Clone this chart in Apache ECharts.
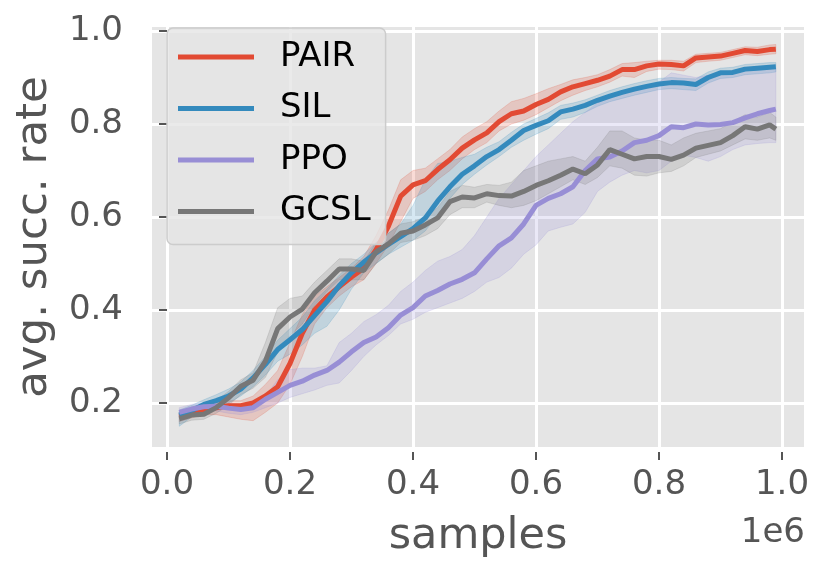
<!DOCTYPE html>
<html>
<head>
<meta charset="utf-8">
<script src="https://cdn.jsdelivr.net/npm/echarts@6/dist/echarts.min.js"></script>
<style>
  html, body { margin: 0; padding: 0; background: #fff; }
  #chart { width: 831px; height: 568px; }
</style>
</head>
<body>
<div id="chart"></div>
<script>
// samples (x1e6)
var xs = [0.02,0.04,0.06,0.08,0.10,0.12,0.14,0.16,0.18,0.20,
          0.22,0.24,0.26,0.28,0.30,0.32,0.34,0.36,0.38,0.40,
          0.42,0.44,0.46,0.48,0.50,0.52,0.54,0.56,0.58,0.60,
          0.62,0.64,0.66,0.68,0.70,0.72,0.74,0.76,0.78,0.80,
          0.82,0.84,0.86,0.88,0.90,0.92,0.94,0.96,0.98,0.99];

var xTicks = [0.0, 0.2, 0.4, 0.6, 0.8, 1.0];
var yTicks = [0.2, 0.4, 0.6, 0.8, 1.0];

// PAIR
var pairMean = [0.170,0.178,0.186,0.190,0.194,0.194,0.200,0.215,0.235,0.285,
                0.350,0.400,0.428,0.450,0.471,0.490,0.530,0.580,0.645,0.669,
                0.678,0.702,0.723,0.748,0.766,0.781,0.805,0.822,0.828,0.842,
                0.853,0.869,0.880,0.887,0.894,0.903,0.917,0.917,0.925,0.929,
                0.928,0.925,0.942,0.944,0.946,0.952,0.958,0.956,0.960,0.961];
var pairLo = [0.160,0.168,0.175,0.175,0.170,0.165,0.162,0.180,0.200,0.240,
              0.300,0.370,0.405,0.430,0.450,0.465,0.500,0.540,0.590,0.640,
              0.655,0.680,0.700,0.725,0.745,0.760,0.785,0.800,0.808,0.820,
              0.835,0.850,0.862,0.872,0.880,0.890,0.903,0.900,0.913,0.918,
              0.917,0.914,0.932,0.935,0.937,0.943,0.949,0.947,0.950,0.951];
var pairHi = [0.180,0.188,0.196,0.200,0.205,0.205,0.215,0.240,0.270,0.330,
              0.390,0.430,0.450,0.470,0.490,0.515,0.560,0.615,0.680,0.700,
              0.705,0.725,0.745,0.772,0.790,0.805,0.828,0.848,0.855,0.865,
              0.876,0.885,0.895,0.900,0.906,0.917,0.930,0.932,0.935,0.937,
              0.937,0.935,0.950,0.952,0.954,0.960,0.966,0.965,0.970,0.971];

// SIL
var silMean = [0.174,0.184,0.197,0.205,0.215,0.230,0.254,0.283,0.315,0.336,
               0.358,0.388,0.418,0.452,0.480,0.503,0.523,0.541,0.558,0.575,
               0.598,0.634,0.665,0.692,0.710,0.730,0.745,0.765,0.786,0.797,
               0.807,0.826,0.832,0.840,0.851,0.860,0.868,0.875,0.881,0.886,
               0.889,0.888,0.885,0.900,0.910,0.911,0.918,0.920,0.922,0.923];
var silLo = [0.150,0.170,0.185,0.192,0.200,0.215,0.235,0.260,0.290,0.305,
             0.325,0.350,0.365,0.400,0.445,0.480,0.500,0.520,0.535,0.550,
             0.570,0.605,0.640,0.670,0.692,0.712,0.730,0.750,0.765,0.778,
             0.790,0.810,0.815,0.825,0.838,0.848,0.855,0.862,0.868,0.874,
             0.876,0.874,0.872,0.888,0.898,0.900,0.906,0.908,0.910,0.912];
var silHi = [0.185,0.195,0.207,0.218,0.230,0.245,0.270,0.300,0.335,0.360,
             0.385,0.420,0.445,0.475,0.500,0.520,0.545,0.565,0.585,0.625,
             0.680,0.715,0.720,0.728,0.735,0.750,0.762,0.782,0.800,0.812,
             0.824,0.840,0.845,0.852,0.862,0.872,0.880,0.887,0.893,0.898,
             0.900,0.898,0.897,0.912,0.920,0.922,0.928,0.930,0.932,0.932];

// PPO
var ppoMean = [0.180,0.187,0.192,0.193,0.189,0.186,0.190,0.208,0.223,0.238,
               0.247,0.260,0.270,0.288,0.310,0.330,0.342,0.362,0.389,0.405,
               0.430,0.442,0.456,0.466,0.480,0.510,0.538,0.555,0.585,0.625,
               0.640,0.650,0.665,0.700,0.725,0.729,0.742,0.760,0.765,0.775,
               0.794,0.792,0.800,0.798,0.799,0.803,0.813,0.822,0.829,0.832];
var ppoLo = [0.170,0.178,0.183,0.183,0.178,0.175,0.180,0.190,0.200,0.212,
             0.220,0.228,0.238,0.243,0.270,0.300,0.325,0.345,0.370,0.380,
             0.395,0.405,0.415,0.425,0.440,0.460,0.470,0.490,0.520,0.540,
             0.570,0.578,0.585,0.610,0.655,0.675,0.690,0.700,0.695,0.700,
             0.720,0.733,0.728,0.720,0.730,0.745,0.755,0.758,0.760,0.760];
var ppoHi = [0.190,0.197,0.200,0.203,0.200,0.197,0.200,0.215,0.250,0.272,
             0.275,0.275,0.280,0.330,0.350,0.375,0.390,0.410,0.440,0.460,
             0.485,0.505,0.515,0.530,0.560,0.600,0.640,0.670,0.700,0.730,
             0.755,0.780,0.805,0.825,0.845,0.860,0.870,0.875,0.880,0.890,
             0.910,0.905,0.900,0.905,0.912,0.915,0.918,0.920,0.920,0.920];

// GCSL
var gcslMean = [0.166,0.174,0.176,0.190,0.211,0.236,0.249,0.290,0.360,0.385,
                0.402,0.437,0.462,0.488,0.488,0.485,0.525,0.542,0.565,0.570,
                0.583,0.598,0.633,0.643,0.641,0.650,0.646,0.645,0.655,0.668,
                0.678,0.690,0.703,0.693,0.712,0.745,0.735,0.725,0.730,0.730,
                0.724,0.733,0.748,0.754,0.760,0.775,0.794,0.789,0.798,0.789];
var gcslLo = [0.155,0.163,0.165,0.178,0.195,0.218,0.232,0.255,0.310,0.345,
              0.370,0.410,0.440,0.465,0.465,0.465,0.500,0.520,0.545,0.550,
              0.560,0.575,0.605,0.620,0.620,0.632,0.625,0.620,0.625,0.635,
              0.650,0.665,0.680,0.670,0.685,0.710,0.705,0.690,0.688,0.695,
              0.698,0.710,0.728,0.735,0.742,0.755,0.768,0.765,0.770,0.765];
var gcslHi = [0.178,0.185,0.188,0.205,0.225,0.250,0.265,0.330,0.405,0.425,
              0.430,0.460,0.485,0.510,0.510,0.505,0.545,0.565,0.585,0.590,
              0.600,0.620,0.655,0.668,0.664,0.670,0.668,0.675,0.700,0.710,
              0.720,0.725,0.730,0.720,0.750,0.785,0.785,0.770,0.765,0.765,
              0.755,0.770,0.780,0.785,0.790,0.805,0.820,0.815,0.825,0.815];

var FONT = 'DejaVu Sans';

function pairs(ys) {
    return xs.map(function (x, i) { return [x, ys[i]]; });
}

// shaded band (custom polygon through the axes) and the mean line for one method
function method(name, color, mean, lo, hi) {
    return [
        {
            name: name + ' band', type: 'custom', silent: true, clip: true,
            data: [[xs[0], lo[0]]],
            renderItem: function (params, api) {
                var pts = [];
                for (var i = 0; i < xs.length; i++) pts.push(api.coord([xs[i], lo[i]]));
                for (var j = xs.length - 1; j >= 0; j--) pts.push(api.coord([xs[j], hi[j]]));
                return {
                    type: 'polygon',
                    shape: { points: pts },
                    style: { fill: color, stroke: color, lineWidth: 1, opacity: 0.2 }
                };
            }
        },
        {
            name: name, type: 'line', symbol: 'none', data: pairs(mean),
            itemStyle: { color: color },
            lineStyle: { color: color, width: 5 }
        }
    ];
}

var myChart = echarts.init(document.getElementById('chart'));

var option = {
    animation: false,
    textStyle: { fontFamily: FONT },
    grid: {
        left: 152, right: 27, top: 27, bottom: 121,
        show: true, backgroundColor: '#E5E5E5', borderWidth: 0
    },
    legend: {
        data: ['PAIR', 'SIL', 'PPO', 'GCSL'],
        orient: 'vertical',
        left: 167, top: 28,
        icon: 'rect', itemWidth: 76, itemHeight: 5, itemGap: 17.5,
        padding: [12, 15, 16, 11],
        backgroundColor: 'rgba(229,229,229,0.8)',
        borderColor: '#cccccc', borderWidth: 1.5, borderRadius: 6,
        textStyle: { fontSize: 34, lineHeight: 34, color: '#000', fontFamily: FONT, padding: [0, 0, 0, 21] }
    },
    xAxis: {
        type: 'value', min: -0.0244, max: 1.0358, splitNumber: 5, offset: 5,
        name: 'samples', nameLocation: 'middle', nameGap: 63,
        nameTextStyle: { fontSize: 43, color: '#555555', fontFamily: FONT },
        axisLine: { show: false },
        axisTick: { show: true, length: 8, customValues: xTicks, lineStyle: { color: '#555555', width: 2 } },
        axisLabel: {
            customValues: xTicks, margin: 16, fontSize: 34, color: '#555555', fontFamily: FONT,
            formatter: function (v) { return v.toFixed(1); }
        },
        splitLine: { show: true, lineStyle: { color: '#ffffff', width: 3 } }
    },
    yAxis: {
        type: 'value', min: 0.1054, max: 1.0086, splitNumber: 5, offset: 5,
        name: 'avg. succ. rate', nameLocation: 'middle', nameGap: 90,
        nameTextStyle: { fontSize: 43.5, color: '#555555', fontFamily: FONT },
        axisLine: { show: false },
        axisTick: { show: true, length: 8, customValues: yTicks, lineStyle: { color: '#555555', width: 2 } },
        axisLabel: {
            customValues: yTicks, margin: 24, fontSize: 34, color: '#555555', fontFamily: FONT,
            formatter: function (v) { return v.toFixed(1); }
        },
        splitLine: { show: true, lineStyle: { color: '#ffffff', width: 3 } }
    },
    graphic: [{
        type: 'text', right: 26, top: 516,
        style: { text: '1e6', fontSize: 34, fill: '#555555', fontFamily: FONT }
    }],
    series: [].concat(
        method('PAIR', '#E24A33', pairMean, pairLo, pairHi),
        method('SIL', '#348ABD', silMean, silLo, silHi),
        method('PPO', '#988ED5', ppoMean, ppoLo, ppoHi),
        method('GCSL', '#777777', gcslMean, gcslLo, gcslHi)
    )
};

myChart.setOption(option);
window.addEventListener('resize', function () {
    myChart.resize();
});
</script>
</body>
</html>
